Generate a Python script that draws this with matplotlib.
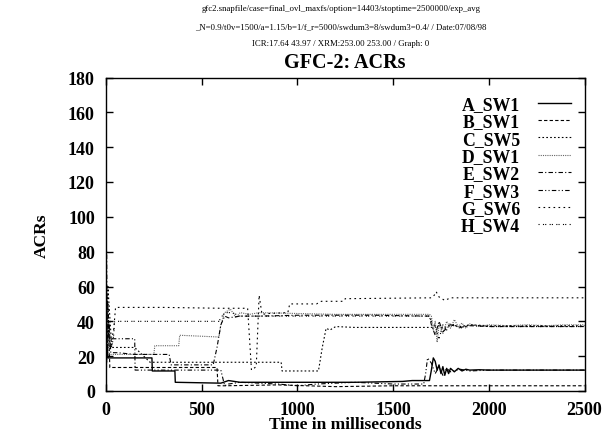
import matplotlib
matplotlib.use("Agg")
import matplotlib.pyplot as plt

plt.rcParams['font.family'] = ['Liberation Serif', 'DejaVu Serif']

header_lines = [
    "gfc2.snapfile/case=final_ovl_maxfs/option=14403/stoptime=2500000/exp_avg",
    "_N=0.9/t0v=1500/a=1.15/b=1/f_r=5000/swdum3=8/swdum3=0.4/ / Date:07/08/98",
    "ICR:17.64 43.97 / XRM:253.00 253.00 / Graph: 0",
]
title = "GFC-2: ACRs"
xlabel = "Time in milliseconds"
ylabel = "ACRs"
series_names = ["A_SW1", "B_SW1", "C_SW5", "D_SW1", "E_SW2", "F_SW3", "G_SW6", "H_SW4"]

a_t = [0, 5, 10, 240, 242, 360, 362, 600, 640, 700, 1000, 1300, 1550, 1600, 1660, 1690, 1700, 1710, 1720,
       1730, 1740, 1750, 1760, 1770, 1780, 1790, 1800, 1820, 1840, 1860, 1880, 1900, 1950, 2000, 2500]
a_v = [10, 25, 19, 19, 11.5, 11.5, 5, 4.5, 6, 5, 5, 5, 5.5, 6, 6, 6, 12, 19, 17,
       12, 15, 10, 14, 9, 13, 10, 13, 11, 13, 11.5, 12.5, 12, 12.2, 12, 12]

b_t = [0, 10, 20, 580, 585, 620, 900, 1200, 1500, 1700, 2000, 2500]
b_v = [5, 50, 13.5, 13.5, 3, 3, 3.5, 2.5, 3, 3, 3, 3]

c_t = [0, 10, 30, 150, 230, 235, 915, 920, 1110, 1130, 1150, 1170, 1200, 1300, 1500, 1700, 1710,
       1730, 1760, 1800, 1850, 1900, 2000, 2500]
c_v = [15, 60, 25, 25, 16.5, 16.5, 16.5, 11.5, 11.5, 25, 36, 35, 37, 36.5, 36.5, 36.5, 37,
       38, 36, 38, 37, 38, 37.5, 37.5]

d_t = [0, 5, 15, 250, 255, 380, 385, 590, 600, 620, 650, 680, 700, 750, 800, 1000, 1200, 1500, 1690,
       1700, 1710, 1720, 1730, 1740, 1760, 1780, 1800, 1820, 1840, 1860, 1880, 1900, 1950, 2000,
       2100, 2200, 2300, 2400, 2500]
d_v = [10, 45, 21, 21, 26, 26, 32, 31, 38, 45, 47, 42, 45, 44, 45, 44.5, 44, 44, 44,
       43, 35, 40, 28, 38, 33, 40, 36, 41, 37, 39, 36, 38.5, 37, 38,
       37.5, 38, 37.5, 38, 38]

e_t = [0, 3, 8, 15, 25, 60, 150, 330, 340, 560, 580, 600, 620, 640, 700, 800, 1000, 1400, 1690, 1700,
       1720, 1740, 1760, 1800, 1850, 1900, 2000, 2500]
e_v = [30, 80, 20, 40, 22, 22, 21, 21, 15, 15, 25, 38, 43, 42, 43, 43, 43.5, 43.5, 43, 38,
       32, 40, 34, 38, 36.5, 37.5, 37, 37]

f_t = [0, 5, 20, 60, 150, 152, 330, 600, 620, 640, 700, 900, 1000, 1100, 1300, 1500, 1660, 1670, 1680,
       1700, 1720, 1740, 1760, 1780, 1800, 1850, 1900, 2000, 2500]
f_v = [20, 55, 30, 30, 30, 12, 12, 12, 3, 4, 5, 4, 3, 4, 5, 4, 4, 10, 19,
       16, 10, 14, 9, 13, 11, 12.5, 11.5, 12, 12]

g_t = [0, 10, 20, 40, 50, 300, 600, 740, 760, 785, 800, 815, 850, 950, 960, 1100, 1125, 1240, 1250,
       1700, 1715, 1725, 1740, 1770, 1790, 1800, 2000, 2500]
g_v = [5, 40, 25, 35, 48, 48, 47.5, 47.5, 12, 14, 55, 44, 44.5, 45, 50, 50, 51.5, 51.5, 53,
       53.5, 55, 57, 54, 52, 53, 53.5, 53.5, 53.5]

h_t = [0, 10, 30, 40, 45, 590, 600, 620, 660, 700, 1000, 1500, 1690, 1700, 1720, 1740, 1760, 1780,
       1800, 1850, 1900, 2000, 2500]
h_v = [10, 35, 25, 32, 40, 40, 42, 45, 45, 43, 43, 43, 43, 40, 37, 30, 38, 35,
       39, 36, 38, 37, 37]

x_ticks = [0, 500, 1000, 1500, 2000, 2500]
y_ticks = [0, 20, 40, 60, 80, 100, 120, 140, 160, 180]

series_t = [a_t, b_t, c_t, d_t, e_t, f_t, g_t, h_t]
series_v = [a_v, b_v, c_v, d_v, e_v, f_v, g_v, h_v]
styles = [
    dict(color='black', ls='-', lw=1.0),
    dict(color='black', ls=(0, (3, 2)), lw=0.8),
    dict(color='black', ls=(0, (1.5, 2)), lw=0.8),
    dict(color='#666666', ls=(0, (1, 1)), lw=0.8),
    dict(color='black', ls=(0, (4, 2, 1, 2)), lw=0.8),
    dict(color='black', ls=(0, (4, 2, 1, 2, 1, 2)), lw=0.8),
    dict(color='black', ls=(0, (1.5, 3)), lw=0.8),
    dict(color='black', ls=(0, (1, 3, 1, 1)), lw=0.8),
]

fig = plt.figure(figsize=(6.03, 4.39), dpi=100)
ax = fig.add_axes([106 / 603, 47 / 439, 478.5 / 603, 313.5 / 439])

for t, v, name, st in zip(series_t, series_v, series_names, styles):
    ax.plot(t, v, label=name, **st)

ax.set_xlim(0, 2500)
ax.set_ylim(0, 180)
ax.set_xticks(x_ticks)
ax.set_yticks(y_ticks)
ax.tick_params(direction='in', top=True, right=True, length=5, width=1, labelsize=13)
ax.tick_params(axis='y', pad=8)
ax.tick_params(axis='x', pad=7)
for lab in ax.get_xticklabels() + ax.get_yticklabels():
    lab.set_fontweight('bold')
for s in ax.spines.values():
    s.set_linewidth(1.0)

ax.set_xlabel(xlabel, fontsize=12.5, fontweight='bold', labelpad=-1)
ax.set_ylabel(ylabel, fontsize=12.5, fontweight='bold', labelpad=13)

leg = ax.legend(loc='upper right', bbox_to_anchor=(0.995, 0.975), frameon=False, markerfirst=False,
                prop={'weight': 'bold', 'size': 12.8}, handlelength=1.9, labelspacing=0.02,
                handletextpad=1.0, borderaxespad=0.2)

ys = [9, 27, 44]
for y, line in zip(ys, header_lines):
    fig.text(341 / 603, 1 - y / 439, line, ha='center', va='center', fontsize=6.35)
fig.text(345 / 603, 1 - 63.5 / 439, title, ha='center', va='center', fontsize=14.5, fontweight='bold')

fig.savefig('out.png', dpi=100)
